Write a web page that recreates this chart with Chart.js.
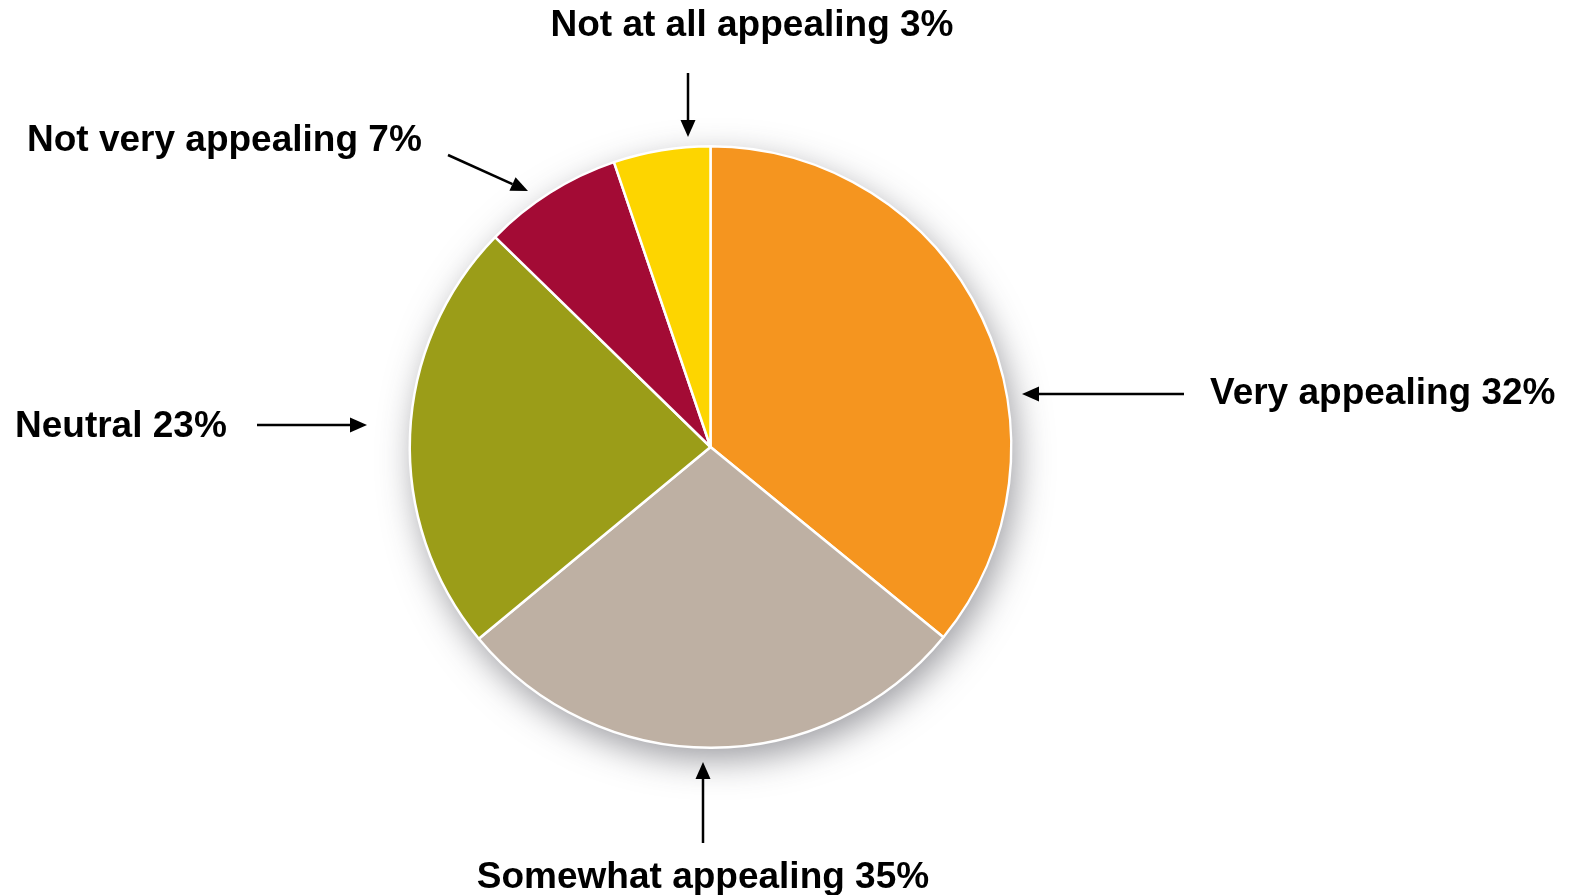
<!DOCTYPE html>
<html>
<head>
<meta charset="utf-8">
<script src="https://cdn.jsdelivr.net/npm/chart.js@4.4.1/dist/chart.umd.min.js"></script>
<style>
  html, body { margin: 0; padding: 0; background: #fff; }
  #wrap { width: 1577px; height: 895px; position: relative; }
</style>
</head>
<body>
<div id="wrap"><canvas id="pie"></canvas></div>
<script>
// slices, clockwise from 12 o'clock
const categories = ["Very appealing", "Somewhat appealing", "Neutral", "Not very appealing", "Not at all appealing"];
// share of the circle each slice takes in the picture
const sliceShares = [35.9, 28.1, 23.3, 7.5, 5.2];
// the numbers printed on the labels
const labelPercents = [32, 35, 23, 7, 3];
const sliceColors = ["#F5951F", "#BEB0A3", "#9B9D18", "#A30B35", "#FDD500"];

// label text spot + arrow (from -> to) for each slice
const callouts = [
  { x: 1210, y: 394, align: "left",   arrow: [1184, 394, 1022, 394] },
  { x: 703,  y: 878, align: "center", arrow: [703, 843, 703, 762] },
  { x: 15,   y: 427, align: "left",   arrow: [257, 425, 367, 425] },
  { x: 27,   y: 141, align: "left",   arrow: [448, 155, 528, 191] },
  { x: 752,  y: 26,  align: "center", arrow: [688, 73, 688, 137] }
];

const pieShadow = {
  id: "pieShadow",
  beforeDatasetsDraw(chart) {
    const arc = chart.getDatasetMeta(0).data[0];
    if (!arc) return;
    const ctx = chart.ctx;
    ctx.save();
    ctx.shadowColor = "rgba(60,60,70,0.5)";
    ctx.shadowBlur = 34;
    ctx.shadowOffsetX = 5;
    ctx.shadowOffsetY = 12;
    ctx.fillStyle = "#fff";
    ctx.beginPath();
    ctx.arc(arc.x, arc.y, arc.outerRadius, 0, Math.PI * 2);
    ctx.fill();
    ctx.restore();
  }
};

function drawArrow(ctx, x1, y1, x2, y2) {
  const ang = Math.atan2(y2 - y1, x2 - x1);
  const len = 17, half = 7.5;
  const bx = x2 - Math.cos(ang) * len, by = y2 - Math.sin(ang) * len;
  ctx.beginPath();
  ctx.moveTo(x1, y1);
  ctx.lineTo(bx, by);
  ctx.stroke();
  ctx.beginPath();
  ctx.moveTo(x2, y2);
  ctx.lineTo(bx + Math.sin(ang) * half, by - Math.cos(ang) * half);
  ctx.lineTo(bx - Math.sin(ang) * half, by + Math.cos(ang) * half);
  ctx.closePath();
  ctx.fill();
}

const calloutLabels = {
  id: "calloutLabels",
  afterDraw(chart) {
    const ctx = chart.ctx;
    ctx.save();
    ctx.fillStyle = "#000";
    ctx.strokeStyle = "#000";
    ctx.lineWidth = 2.5;
    ctx.font = "bold 37px 'Liberation Sans', Arial, sans-serif";
    ctx.textBaseline = "middle";
    categories.forEach((name, i) => {
      const c = callouts[i];
      ctx.textAlign = c.align;
      ctx.fillText(name + " " + labelPercents[i] + "%", c.x, c.y);
      drawArrow(ctx, ...c.arrow);
    });
    ctx.restore();
  }
};

new Chart(document.getElementById("pie"), {
  type: "pie",
  data: {
    labels: categories,
    datasets: [{
      data: sliceShares,
      backgroundColor: sliceColors,
      borderColor: "#fff",
      borderWidth: 2.5
    }]
  },
  options: {
    responsive: true,
    maintainAspectRatio: false,
    animation: false,
    layout: { padding: { top: 145, bottom: 146, left: 408, right: 564 } },
    plugins: {
      legend: { display: false },
      tooltip: { enabled: false }
    }
  },
  plugins: [pieShadow, calloutLabels]
});
</script>
</body>
</html>
